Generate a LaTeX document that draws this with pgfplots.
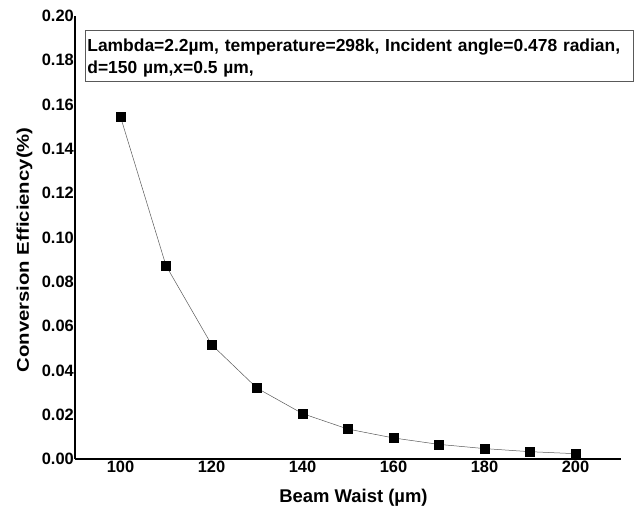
\documentclass[border=0pt]{standalone}
\usepackage{pgfplots}
\pgfplotsset{compat=1.18}
\usepackage{fontspec}
\setmainfont{Liberation Sans}
\newfontfamily\ylabfont[FakeStretch=1.2]{Liberation Sans}
\usetikzlibrary{calc}
\begin{document}
\begin{tikzpicture}
\begin{axis}[
  scale only axis, width=546bp, height=443bp,
  xmin=90, xmax=210, ymin=0, ymax=0.20,
  axis lines*=left, axis line style={line width=1.5pt, -},
  xtick={100,120,...,200}, ytick={0,0.02,...,0.201},
  major tick length=0pt,
  /pgf/number format/assume math mode=true,
  yticklabel style={/pgf/number format/fixed, /pgf/number format/fixed zerofill, /pgf/number format/precision=2},
  ticklabel style={font=\fontsize{16.5}{18}\selectfont\bfseries},
  yticklabel style={inner sep=1pt},
  xticklabel style={inner sep=1.5pt},
  xlabel={\fontsize{18.5}{20}\selectfont\bfseries Beam Waist (µm)},
  ylabel={\fontsize{17}{19}\ylabfont\bfseries Conversion Efficiency(\%)},
  xlabel style={at={(axis description cs:0.51,-0.0993)}, anchor=base},
  ylabel style={at={(axis description cs:-0.0714,0.472)}, anchor=south, rotate=0},
  clip=false,
]
\addplot[gray!70!black, line width=0.5pt, mark=square*, mark size=4.4bp, mark options={solid, fill=black, draw=black}]
coordinates {
(100,0.1545) (110,0.0873) (120,0.0517) (130,0.0320) (140,0.0205)
(150,0.0135) (160,0.0095) (170,0.0066) (180,0.0047) (190,0.0033) (200,0.0024)
};
\node[draw=gray!70!black, line width=0.8pt, anchor=north west, fill=white,
  text width=544bp, align=left, inner xsep=2bp, inner ysep=4bp,
  font=\fontsize{17.5}{23}\selectfont\bfseries]
  at (rel axis cs:0.0183,0.968)
  {\rule{0pt}{16.5bp}Lambda=2.2µm, temperature=298k, Incident angle=0.478 radian,\\ d=150 µm,x=0.5 µm,\rule[-2.5bp]{0pt}{0pt}};
\end{axis}
\pgfresetboundingbox
\path ($(current axis.south west)+(-75bp,-52bp)$) rectangle ($(current axis.north east)+(16bp,16bp)$);
\end{tikzpicture}
\end{document}
